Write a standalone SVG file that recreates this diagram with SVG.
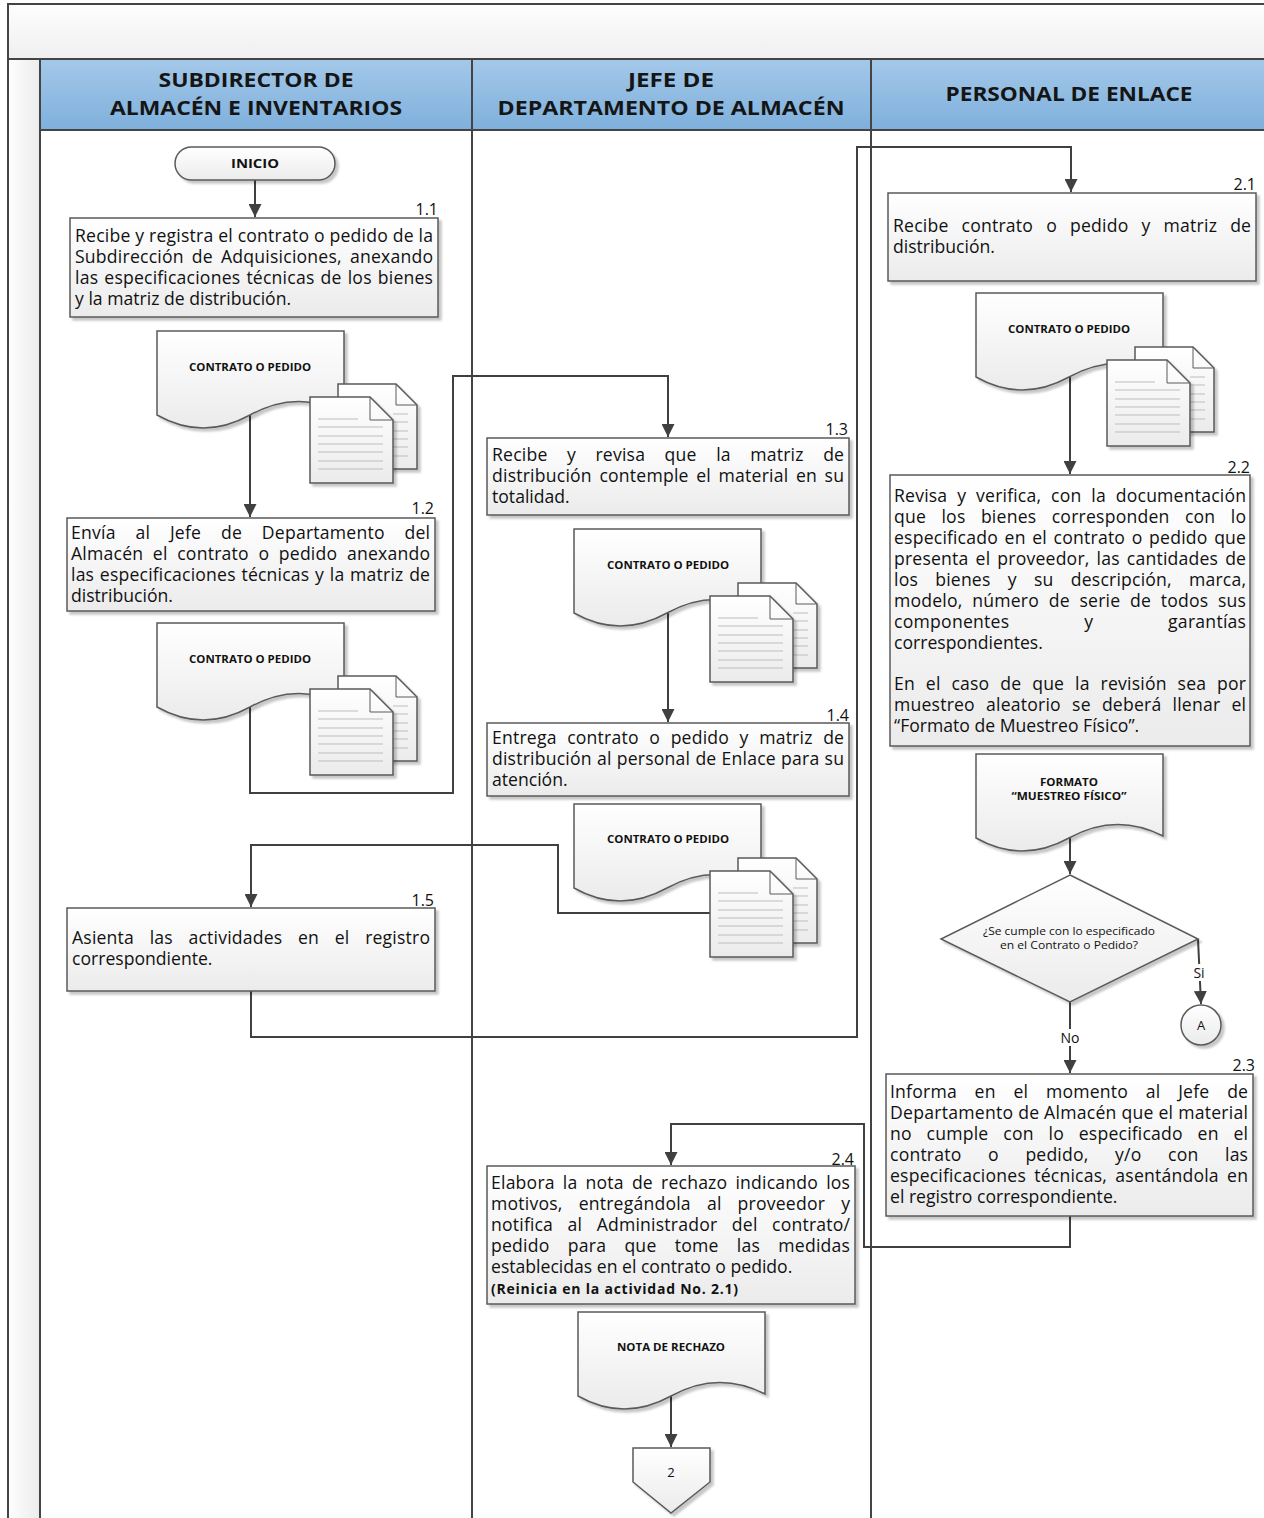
<svg xmlns="http://www.w3.org/2000/svg" width="1264" height="1518" viewBox="0 0 1264 1518">
<style>
.t{font-family:"Open Sans","Liberation Sans",sans-serif;font-size:17.6px;fill:#111}
.num{font-family:"Open Sans","Liberation Sans",sans-serif;font-size:16px;fill:#111;text-anchor:end}
.hd{font-family:"Open Sans","Liberation Sans",sans-serif;font-weight:bold;font-size:20px;fill:#151515;text-anchor:middle}
.dl{font-family:"Open Sans","Liberation Sans",sans-serif;font-weight:bold;font-size:11px;fill:#111;text-anchor:middle}
.sm{font-family:"Open Sans","Liberation Sans",sans-serif;font-size:11px;fill:#111;text-anchor:middle}
.lb{font-family:"Open Sans","Liberation Sans",sans-serif;font-size:14px;fill:#111;text-anchor:middle}
.box{fill:url(#gBox);stroke:#5a5a5a;stroke-width:1.5}
.frame{stroke:#444;stroke-width:2;fill:none}
.con{fill:none;stroke:#404040;stroke-width:2}
.pl{stroke:#bdbdbd;stroke-width:1}
</style>
<defs>
<linearGradient id="gBox" x1="0" y1="0" x2="0" y2="1"><stop offset="0" stop-color="#ffffff"/><stop offset="1" stop-color="#ebebeb"/></linearGradient>
<linearGradient id="gHead" x1="0" y1="0" x2="0" y2="1"><stop offset="0" stop-color="#a4c8e9"/><stop offset="1" stop-color="#7eb0dc"/></linearGradient>
<linearGradient id="gTitle" x1="0" y1="0" x2="0" y2="1"><stop offset="0" stop-color="#fefefe"/><stop offset="1" stop-color="#efefef"/></linearGradient>
<linearGradient id="gStrip" x1="0" y1="0" x2="1" y2="0"><stop offset="0" stop-color="#fefefe"/><stop offset="1" stop-color="#ececec"/></linearGradient>
<filter id="sh" x="-10%" y="-10%" width="130%" height="130%"><feDropShadow dx="3" dy="3" stdDeviation="1.2" flood-color="#000" flood-opacity="0.22"/></filter>
<marker id="arr" viewBox="0 0 10 10" refX="10" refY="5" markerWidth="13" markerHeight="13" markerUnits="userSpaceOnUse" orient="auto"><path d="M0,0 L10,5 L0,10 Z" fill="#404040"/></marker>
<path id="docShape" d="M0,0 H187 V82 Q140,58 93,84 T0,84 Z" class="box"/>
<g id="pages">
<path d="M28,-13 H86 L107,8 V72 H28 Z" class="box" filter="url(#sh)"/>
<path d="M86,-13 V8 H107" fill="none" stroke="#5a5a5a" stroke-width="1"/>
<line x1="83" y1="17" x2="98" y2="17" class="pl"/><line x1="83" y1="25" x2="98" y2="25" class="pl"/><line x1="83" y1="34" x2="98" y2="34" class="pl"/><line x1="83" y1="42" x2="98" y2="42" class="pl"/><line x1="83" y1="50" x2="98" y2="50" class="pl"/><line x1="83" y1="59" x2="98" y2="59" class="pl"/>
<path d="M0,0 H60 L83,23 V86 H0 Z" class="box" filter="url(#sh)"/>
<path d="M60,0 V23 H83" fill="none" stroke="#5a5a5a" stroke-width="1"/>
<line x1="8" y1="22" x2="48" y2="22" class="pl"/><line x1="8" y1="30" x2="73" y2="30" class="pl"/><line x1="8" y1="39" x2="73" y2="39" class="pl"/><line x1="8" y1="47" x2="73" y2="47" class="pl"/><line x1="8" y1="55" x2="73" y2="55" class="pl"/><line x1="8" y1="64" x2="73" y2="64" class="pl"/><line x1="8" y1="72" x2="73" y2="72" class="pl"/>
</g>
</defs>

<g id="frame">
<rect x="0" y="0" width="1264" height="1518" fill="#ffffff"/>
<rect x="8" y="4" width="1260" height="55" fill="url(#gTitle)"/>
<rect x="8" y="59" width="32" height="1460" fill="url(#gStrip)"/>
<rect x="40" y="59" width="1228" height="71" fill="url(#gHead)"/>
<path class="frame" d="M8,1519 V4 H1266 M8,59 H1266 M40,59 V1519 M40,130 H1266 M472,59 V1519 M871,59 V1519"/>
<text class="hd" x="256" y="87" textLength="195" lengthAdjust="spacingAndGlyphs">SUBDIRECTOR DE</text>
<text class="hd" x="256" y="115" textLength="292" lengthAdjust="spacingAndGlyphs">ALMACÉN E INVENTARIOS</text>
<text class="hd" x="671" y="87" textLength="86" lengthAdjust="spacingAndGlyphs">JEFE DE</text>
<text class="hd" x="671" y="115" textLength="347" lengthAdjust="spacingAndGlyphs">DEPARTAMENTO DE ALMACÉN</text>
<text class="hd" x="1069" y="101" textLength="247" lengthAdjust="spacingAndGlyphs">PERSONAL DE ENLACE</text>
</g>

<g id="connectors">
<path class="con" d="M255,180 V217" marker-end="url(#arr)"/>
<path class="con" d="M250,412 V517" marker-end="url(#arr)"/>
<path class="con" d="M250,704 V793 H453 V376 H668 V437" marker-end="url(#arr)"/>
<path class="con" d="M668,610 V722" marker-end="url(#arr)"/>
<path class="con" d="M710,913 H558 V845 H251 V907" marker-end="url(#arr)"/>
<path class="con" d="M251,991 V1037 H857 V147 H1071 V192" marker-end="url(#arr)"/>
<path class="con" d="M1070,374 V474" marker-end="url(#arr)"/>
<path class="con" d="M1070,835 V874" marker-end="url(#arr)"/>
<path class="con" d="M1198,939 L1201,1004" marker-end="url(#arr)"/>
<path class="con" d="M1070,1001 V1073" marker-end="url(#arr)"/>
<path class="con" d="M1070,1216 V1247 H864 V1124 H671 V1165" marker-end="url(#arr)"/>
<path class="con" d="M671,1394 V1447" marker-end="url(#arr)"/>
<rect x="1189" y="964" width="20" height="17" fill="#fff"/>
<text class="lb" x="1199" y="978">Si</text>
<rect x="1057" y="1029" width="26" height="17" fill="#fff"/>
<text class="lb" x="1070" y="1043">No</text>
</g>

<g id="inicio">
<rect x="175" y="147" width="160" height="33" rx="16.5" class="box" filter="url(#sh)"/>
<text class="dl" x="255" y="168" style="font-size:13px" textLength="48" lengthAdjust="spacingAndGlyphs">INICIO</text>
</g>

<g id="n1_1">
<rect x="70" y="218" width="368" height="99" class="box" filter="url(#sh)"/>
<text class="num" x="438" y="215">1.1</text>
<text class="t" x="75" y="242" textLength="358" lengthAdjust="spacing">Recibe y registra el contrato o pedido de la</text>
<text class="t" x="75" y="263" style="word-spacing:3.3px" textLength="358" lengthAdjust="spacing">Subdirección de Adquisiciones, anexando</text>
<text class="t" x="75" y="284" style="word-spacing:1.3px" textLength="358" lengthAdjust="spacing">las especificaciones técnicas de los bienes</text>
<text class="t" x="75" y="305">y la matriz de distribución.</text>
</g>

<g id="doc1">
<use href="#docShape" x="157" y="331" filter="url(#sh)"/>
<use href="#pages" x="310" y="397"/>
<text class="dl" x="250" y="371" textLength="122" lengthAdjust="spacingAndGlyphs">CONTRATO O PEDIDO</text>
</g>

<g id="n1_2">
<rect x="67" y="518" width="368" height="93" class="box" filter="url(#sh)"/>
<text class="num" x="434" y="514">1.2</text>
<text class="t" x="71" y="539" style="word-spacing:15px" textLength="359" lengthAdjust="spacing">Envía al Jefe de Departamento del</text>
<text class="t" x="71" y="560" style="word-spacing:4.8px" textLength="359" lengthAdjust="spacing">Almacén el contrato o pedido anexando</text>
<text class="t" x="71" y="581" style="word-spacing:0.9px" textLength="359" lengthAdjust="spacing">las especificaciones técnicas y la matriz de</text>
<text class="t" x="71" y="602">distribución.</text>
</g>

<g id="doc2">
<use href="#docShape" x="157" y="623" filter="url(#sh)"/>
<use href="#pages" x="310" y="689"/>
<text class="dl" x="250" y="663" textLength="122" lengthAdjust="spacingAndGlyphs">CONTRATO O PEDIDO</text>
</g>

<g id="n1_3">
<rect x="487" y="438" width="362" height="77" class="box" filter="url(#sh)"/>
<text class="num" x="848" y="435">1.3</text>
<text class="t" x="492" y="461" style="word-spacing:14.7px" textLength="352" lengthAdjust="spacing">Recibe y revisa que la matriz de</text>
<text class="t" x="492" y="482" style="word-spacing:2.8px" textLength="352" lengthAdjust="spacing">distribución contemple el material en su</text>
<text class="t" x="492" y="503">totalidad.</text>
</g>

<g id="doc3">
<use href="#docShape" x="574" y="529" filter="url(#sh)"/>
<use href="#pages" x="710" y="596"/>
<text class="dl" x="668" y="569" textLength="122" lengthAdjust="spacingAndGlyphs">CONTRATO O PEDIDO</text>
</g>

<g id="n1_4">
<rect x="487" y="723" width="362" height="73" class="box" filter="url(#sh)"/>
<text class="num" x="849" y="721">1.4</text>
<text class="t" x="492" y="744" style="word-spacing:5.8px" textLength="352" lengthAdjust="spacing">Entrega contrato o pedido y matriz de</text>
<text class="t" x="492" y="765" style="word-spacing:0.4px" textLength="352" lengthAdjust="spacing">distribución al personal de Enlace para su</text>
<text class="t" x="492" y="786">atención.</text>
</g>

<g id="doc4">
<use href="#docShape" x="574" y="804" filter="url(#sh)"/>
<use href="#pages" x="710" y="871"/>
<text class="dl" x="668" y="843" textLength="122" lengthAdjust="spacingAndGlyphs">CONTRATO O PEDIDO</text>
</g>

<g id="n1_5">
<rect x="67" y="908" width="368" height="83" class="box" filter="url(#sh)"/>
<text class="num" x="434" y="906">1.5</text>
<text class="t" x="72" y="944" style="word-spacing:10.9px" textLength="358" lengthAdjust="spacing">Asienta las actividades en el registro</text>
<text class="t" x="72" y="965">correspondiente.</text>
</g>

<g id="n2_1">
<rect x="888" y="193" width="368" height="88" class="box" filter="url(#sh)"/>
<text class="num" x="1256" y="190">2.1</text>
<text class="t" x="893" y="232" style="word-spacing:8.3px" textLength="358" lengthAdjust="spacing">Recibe contrato o pedido y matriz de</text>
<text class="t" x="893" y="253">distribución.</text>
</g>

<g id="doc5">
<use href="#docShape" x="976" y="293" filter="url(#sh)"/>
<use href="#pages" x="1107" y="360"/>
<text class="dl" x="1069" y="333" textLength="122" lengthAdjust="spacingAndGlyphs">CONTRATO O PEDIDO</text>
</g>

<g id="n2_2">
<rect x="890" y="475" width="360" height="271" class="box" filter="url(#sh)"/>
<text class="num" x="1250" y="473">2.2</text>
<text class="t" x="894" y="502" style="word-spacing:5.1px" textLength="352" lengthAdjust="spacing">Revisa y verifica, con la documentación</text>
<text class="t" x="894" y="523" style="word-spacing:10.6px" textLength="352" lengthAdjust="spacing">que los bienes corresponden con lo</text>
<text class="t" x="894" y="544" style="word-spacing:1.8px" textLength="352" lengthAdjust="spacing">especificado en el contrato o pedido que</text>
<text class="t" x="894" y="565" style="word-spacing:2.3px" textLength="352" lengthAdjust="spacing">presenta el proveedor, las cantidades de</text>
<text class="t" x="894" y="586" style="word-spacing:12.5px" textLength="352" lengthAdjust="spacing">los bienes y su descripción, marca,</text>
<text class="t" x="894" y="607" style="word-spacing:4.9px" textLength="352" lengthAdjust="spacing">modelo, número de serie de todos sus</text>
<text class="t" x="894" y="628" style="word-spacing:70px" textLength="352" lengthAdjust="spacing">componentes y garantías</text>
<text class="t" x="894" y="649">correspondientes.</text>
<text class="t" x="894" y="690" style="word-spacing:6.1px" textLength="352" lengthAdjust="spacing">En el caso de que la revisión sea por</text>
<text class="t" x="894" y="711" style="word-spacing:6.4px" textLength="352" lengthAdjust="spacing">muestreo aleatorio se deberá llenar el</text>
<text class="t" x="894" y="732">“Formato de Muestreo Físico”.</text>
</g>

<g id="doc6">
<use href="#docShape" x="976" y="754" filter="url(#sh)"/>
<text class="dl" x="1069" y="786" textLength="58" lengthAdjust="spacingAndGlyphs">FORMATO</text>
<text class="dl" x="1069" y="800" textLength="115" lengthAdjust="spacingAndGlyphs">“MUESTREO FÍSICO”</text>
</g>

<g id="decision">
<path d="M1070,875 L1198,939 L1070,1002 L941,939 Z" class="box" filter="url(#sh)"/>
<text class="sm" x="1069" y="935" textLength="172" lengthAdjust="spacingAndGlyphs">¿Se cumple con lo especificado</text>
<text class="sm" x="1069" y="949" textLength="138" lengthAdjust="spacingAndGlyphs">en el Contrato o Pedido?</text>
</g>

<g id="connA">
<circle cx="1201" cy="1025" r="20" class="box" filter="url(#sh)"/>
<text class="lb" x="1201" y="1030" style="font-size:13px">A</text>
</g>

<g id="n2_3">
<rect x="886" y="1074" width="367" height="142" class="box" filter="url(#sh)"/>
<text class="num" x="1255" y="1071">2.3</text>
<text class="t" x="890" y="1098" style="word-spacing:13px" textLength="358" lengthAdjust="spacing">Informa en el momento al Jefe de</text>
<text class="t" x="890" y="1119" textLength="358" lengthAdjust="spacing">Departamento de Almacén que el material</text>
<text class="t" x="890" y="1140" style="word-spacing:10px" textLength="358" lengthAdjust="spacing">no cumple con lo especificado en el</text>
<text class="t" x="890" y="1161" style="word-spacing:21.8px" textLength="358" lengthAdjust="spacing">contrato o pedido, y/o con las</text>
<text class="t" x="890" y="1182" style="word-spacing:3.5px" textLength="358" lengthAdjust="spacing">especificaciones técnicas, asentándola en</text>
<text class="t" x="890" y="1203">el registro correspondiente.</text>
</g>

<g id="n2_4">
<rect x="487" y="1166" width="368" height="138" class="box" filter="url(#sh)"/>
<text class="num" x="854" y="1165">2.4</text>
<text class="t" x="491" y="1189" style="word-spacing:3.3px" textLength="359" lengthAdjust="spacing">Elabora la nota de rechazo indicando los</text>
<text class="t" x="491" y="1210" style="word-spacing:11.3px" textLength="359" lengthAdjust="spacing">motivos, entregándola al proveedor y</text>
<text class="t" x="491" y="1231" style="word-spacing:9.7px" textLength="359" lengthAdjust="spacing">notifica al Administrador del contrato/</text>
<text class="t" x="491" y="1252" style="word-spacing:13.4px" textLength="359" lengthAdjust="spacing">pedido para que tome las medidas</text>
<text class="t" x="491" y="1273">establecidas en el contrato o pedido.</text>
<text class="t" x="491" y="1294" style="font-weight:bold;font-size:14px" textLength="247" lengthAdjust="spacing">(Reinicia en la actividad No. 2.1)</text>
</g>

<g id="doc7">
<use href="#docShape" x="578" y="1312" filter="url(#sh)"/>
<text class="dl" x="671" y="1351" textLength="108" lengthAdjust="spacingAndGlyphs">NOTA DE RECHAZO</text>
</g>

<g id="offpage2">
<path d="M633,1448 H710 V1482 L671,1513 L633,1482 Z" class="box" filter="url(#sh)"/>
<text class="lb" x="671" y="1477" style="font-size:13px">2</text>
</g>
</svg>
